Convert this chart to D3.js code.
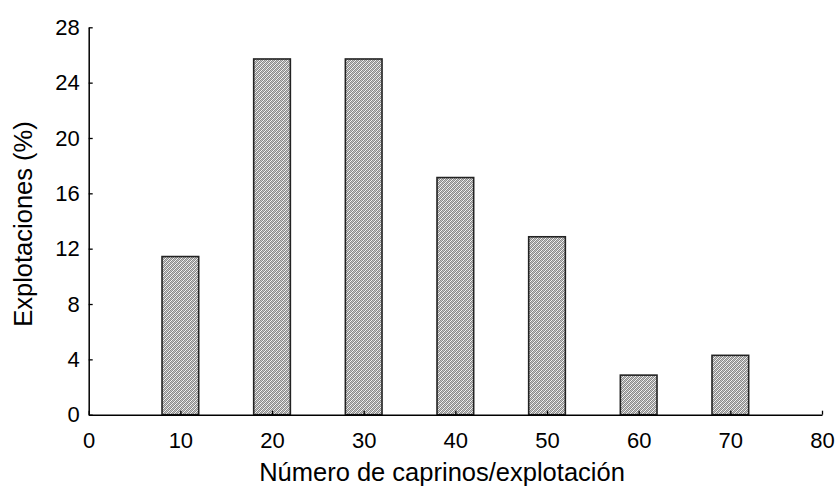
<!DOCTYPE html>
<html><head><meta charset="utf-8">
<script src="https://cdn.jsdelivr.net/npm/d3@7"></script>
<style>body{margin:0;background:#fff}svg{display:block}</style>
</head><body>
<script>
const categories = [10, 20, 30, 40, 50, 60, 70];
const values = [11.43, 25.71, 25.71, 17.14, 12.86, 2.86, 4.29];
const xTicks = [0, 10, 20, 30, 40, 50, 60, 70, 80];
const yTicks = [0, 4, 8, 12, 16, 20, 24, 28];
const xLabel = "Número de caprinos/explotación";
const yLabel = "Explotaciones (%)";

const W = 836, H = 488;
const svg = d3.select("body").append("svg").attr("width", W).attr("height", H);
const font = "'Liberation Sans', Arial, sans-serif";

const defs = svg.append("defs");
const pat = defs.append("pattern").attr("id", "hatch").attr("patternUnits", "userSpaceOnUse")
  .attr("width", 4).attr("height", 4);
pat.append("rect").attr("width", 4).attr("height", 4).attr("fill", "#f4f4f4");
for (let py = 0; py < 4; py++) for (let px = 0; px < 4; px++) {
  const s = (px + py) % 4;
  if (s === 0 || s === 2) pat.append("rect").attr("x", px).attr("y", py).attr("width", 1).attr("height", 1).attr("fill", "#8a8a8a");
  else if (s === 1) pat.append("rect").attr("x", px).attr("y", py).attr("width", 1).attr("height", 1).attr("fill", "#c4c4c4");
}

const x = d3.scaleLinear().domain([0, 80]).range([88.7, 822]);
const y = d3.scaleLinear().domain([0, 28]).range([414.7, 27.3]);

// bars
svg.append("g").selectAll("rect").data(categories).join("rect")
  .attr("x", d => x(d - 2))
  .attr("width", d => x(d + 2) - x(d - 2))
  .attr("y", (d, i) => y(values[i]))
  .attr("height", (d, i) => y(0) - y(values[i]))
  .attr("fill", "url(#hatch)")
  .attr("stroke", "#222").attr("stroke-width", 1.6);

// axes
const xAxis = svg.append("g").attr("transform", `translate(0,${y(0)})`)
  .call(d3.axisBottom(x).tickValues(xTicks).tickSizeInner(-4).tickSizeOuter(0).tickPadding(18));
const yAxis = svg.append("g").attr("transform", `translate(${x(0)},0)`)
  .call(d3.axisLeft(y).tickValues(yTicks).tickSizeInner(-4).tickSizeOuter(0).tickPadding(9));
[xAxis, yAxis].forEach(g => {
  g.select(".domain").attr("stroke", "#000").attr("stroke-width", 1.5);
  g.selectAll(".tick line").attr("stroke", "#000").attr("stroke-width", 1.3);
  g.selectAll(".tick text").attr("font-family", font).attr("font-size", 22).attr("fill", "#000");
});
yAxis.selectAll(".tick text").attr("x", -9);

svg.append("text").attr("x", 442).attr("y", 481).attr("text-anchor", "middle")
  .attr("font-family", font).attr("font-size", 25.5).attr("fill", "#000").text(xLabel);
svg.append("text").attr("transform", "translate(31.7,224) rotate(-90)").attr("text-anchor", "middle")
  .attr("font-family", font).attr("font-size", 25.5).attr("fill", "#000").text(yLabel);
</script>
</body></html>
